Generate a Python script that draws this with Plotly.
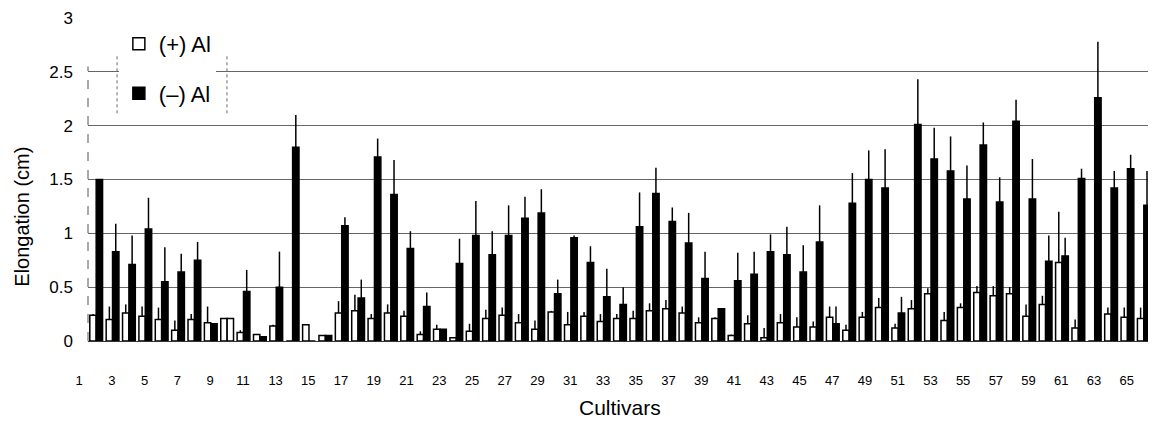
import plotly.graph_objects as go

cultivars = list(range(1, 66))

plus_al = [0.24, 0.20, 0.26, 0.23, 0.20, 0.10, 0.20, 0.17, 0.21, 0.08,
           0.06, 0.14, 0.00, 0.15, 0.05, 0.26, 0.28, 0.21, 0.26, 0.23,
           0.06, 0.11, 0.03, 0.09, 0.21, 0.24, 0.17, 0.11, 0.27, 0.15,
           0.23, 0.18, 0.21, 0.21, 0.28, 0.30, 0.26, 0.17, 0.21, 0.05,
           0.16, 0.03, 0.17, 0.13, 0.13, 0.22, 0.10, 0.22, 0.31, 0.12,
           0.30, 0.44, 0.19, 0.31, 0.45, 0.42, 0.44, 0.23, 0.34, 0.73,
           0.12, 0.00, 0.25, 0.22, 0.21]
plus_err = [0.01, 0.12, 0.08, 0.09, 0.11, 0.09, 0.05, 0.15, 0.00, 0.02,
            0.00, 0.01, 0.00, 0.00, 0.00, 0.11, 0.15, 0.04, 0.08, 0.05,
            0.03, 0.04, 0.00, 0.07, 0.08, 0.07, 0.08, 0.08, 0.01, 0.12,
            0.04, 0.07, 0.04, 0.07, 0.07, 0.08, 0.06, 0.05, 0.01, 0.01,
            0.08, 0.09, 0.08, 0.09, 0.05, 0.10, 0.05, 0.05, 0.09, 0.04,
            0.08, 0.05, 0.08, 0.04, 0.06, 0.09, 0.06, 0.11, 0.08, 0.47,
            0.08, 0.00, 0.06, 0.09, 0.10]

minus_al = [1.50, 0.83, 0.71, 1.04, 0.55, 0.64, 0.75, 0.16, 0.21, 0.46,
            0.04, 0.50, 1.80, 0.00, 0.05, 1.07, 0.40, 1.71, 1.36, 0.86,
            0.32, 0.11, 0.72, 0.98, 0.80, 0.98, 1.14, 1.19, 0.44, 0.96,
            0.73, 0.41, 0.34, 1.06, 1.37, 1.11, 0.91, 0.58, 0.30, 0.56,
            0.62, 0.83, 0.80, 0.64, 0.92, 0.16, 1.28, 1.50, 1.42, 0.26,
            2.01, 1.69, 1.58, 1.32, 1.82, 1.29, 2.04, 1.32, 0.74, 0.79,
            1.51, 2.26, 1.42, 1.60, 1.26]
minus_err = [0.00, 0.26, 0.27, 0.29, 0.32, 0.17, 0.17, 0.00, 0.00, 0.20,
             0.00, 0.33, 0.30, 0.00, 0.00, 0.08, 0.17, 0.17, 0.32, 0.16,
             0.13, 0.00, 0.23, 0.32, 0.22, 0.28, 0.20, 0.22, 0.13, 0.02,
             0.15, 0.26, 0.16, 0.32, 0.24, 0.13, 0.28, 0.25, 0.00, 0.26,
             0.21, 0.16, 0.26, 0.25, 0.34, 0.16, 0.28, 0.27, 0.36, 0.15,
             0.42, 0.29, 0.32, 0.31, 0.21, 0.23, 0.20, 0.37, 0.24, 0.17,
             0.09, 0.52, 0.16, 0.13, 0.32]

tick_vals = list(range(1, 66, 2))
tick_text = [str(v) for v in tick_vals]
y_ticks = [0, 0.5, 1, 1.5, 2, 2.5, 3]
y_text = ["0", "0.5", "1", "1.5", "2", "2.5", "3"]

# the -Al bar of cultivar 9 is printed hollow in the source
minus_colors = ["#000000"] * len(cultivars)
minus_colors[8] = "#ffffff"

FONT = "Liberation Sans, Arial, sans-serif"

fig = go.Figure()
fig.add_trace(go.Bar(
    x=cultivars, y=plus_al, name="(+) Al", legendgroup="p",
    marker=dict(color="#ffffff", line=dict(color="#000000", width=1.5)),
    error_y=dict(type="data", array=plus_err, arrayminus=[0] * len(plus_err),
                 symmetric=False, color="#000000", thickness=1.5, width=0),
))
fig.add_trace(go.Bar(
    x=cultivars, y=minus_al, name="(\u2013) Al", legendgroup="m",
    marker=dict(color=minus_colors, line=dict(color="#000000", width=1.5)),
    error_y=dict(type="data", array=minus_err, arrayminus=[0] * len(minus_err),
                 symmetric=False, color="#000000", thickness=1.5, width=0),
))

# plot frame lines (left dashed, right solid) that stop below the top
fig.add_shape(type="line", xref="paper", yref="y", x0=0, x1=0, y0=0, y1=2.55,
              line=dict(color="#555555", width=1, dash="dash"))
fig.add_shape(type="line", xref="paper", yref="y", x0=1, x1=1, y0=0, y1=2.6,
              line=dict(color="#444444", width=1))
# dashed side edges of the legend box
for xp in (0.0273, 0.1306):
    fig.add_shape(type="line", xref="paper", yref="paper", x0=xp, x1=xp,
                  y0=0.705, y1=0.89,
                  line=dict(color="#666666", width=1, dash="dot"))

fig.add_annotation(text="Elongation (cm)", xref="paper", yref="paper",
                   x=-0.062, y=0.385, xanchor="center", yanchor="middle",
                   textangle=-90, showarrow=False,
                   font=dict(size=20, family=FONT, color="#000000"))
fig.add_annotation(text="Cultivars", xref="paper", yref="paper",
                   x=0.5, y=-0.205, xanchor="center", yanchor="middle",
                   showarrow=False,
                   font=dict(size=21, family=FONT, color="#000000"))

# the page body adds an 8 px offset, so the figure is 8 px smaller and
# the left/top margins are reduced to keep the plot area in place
fig.update_layout(
    width=1148, height=413,
    margin=dict(l=80, r=4, t=10, b=80),
    paper_bgcolor="#ffffff", plot_bgcolor="#ffffff",
    barmode="group", bargap=0.22, bargroupgap=0.0,
    font=dict(family=FONT, color="#000000"),
    showlegend=True,
    legend=dict(x=0.029, y=0.985, xanchor="left", yanchor="top",
                font=dict(size=22, family=FONT), bgcolor="#ffffff",
                borderwidth=0,
                traceorder="grouped", tracegroupgap=18,
                itemwidth=30),
    xaxis=dict(range=[0.5, 65.5], tickmode="array", tickvals=tick_vals,
               ticktext=tick_text, tickfont=dict(size=13),
               showgrid=False, zeroline=False, showline=True,
               linecolor="#333333", linewidth=1, ticks="",
               ticklabelshift=-17, ticklabelstandoff=27, automargin=False,
               ticklabeloverflow="allow"),
    yaxis=dict(range=[0, 3], tickmode="array", tickvals=y_ticks,
               ticktext=y_text, tickfont=dict(size=17),
               showgrid=True, gridcolor="#666666", gridwidth=1,
               zeroline=False, showline=False, ticks="",
               ticklabelstandoff=14, automargin=False,
               ticklabeloverflow="allow"),
)

fig.write_html("out.html")
